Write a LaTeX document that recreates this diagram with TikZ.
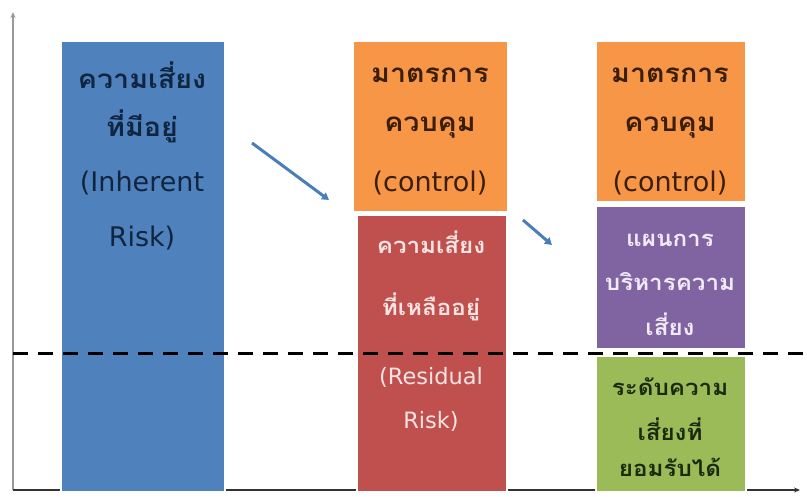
\documentclass[tikz,border=0pt]{standalone}
\usepackage{fontspec}
\setmainfont[Script=Thai,FakeStretch=1.1]{Loma}
\newfontfamily\latfont{DejaVu Sans}
\usetikzlibrary{arrows.meta}
\definecolor{cblue}{HTML}{4F81BD}
\definecolor{corange}{HTML}{F79646}
\definecolor{cred}{HTML}{C0504D}
\definecolor{cpurple}{HTML}{8064A2}
\definecolor{cgreen}{HTML}{9BBB59}
\definecolor{tnavy}{HTML}{10253F}
\definecolor{tbrown}{HTML}{3A1E08}
\definecolor{tpink}{HTML}{F6E4E3}
\definecolor{tlilac}{HTML}{F1EAF8}
\definecolor{tgreen}{HTML}{1C2A0C}
\definecolor{carrow}{HTML}{4A7EBB}
\begin{document}
\begin{tikzpicture}[x=1pt,y=-1pt,
  box/.style={draw=white, line width=1.5pt, inner sep=0pt, anchor=north west},
  big/.style={font=\fontsize{26}{26}\selectfont\bfseries, inner sep=0pt},
  bigl/.style={font=\fontsize{27}{27}\selectfont\latfont, inner sep=0pt},
  small/.style={font=\fontsize{22}{22}\selectfont\bfseries, inner sep=0pt},
  smalll/.style={font=\fontsize{22.5}{22.5}\selectfont\latfont, inner sep=0pt},
  flow/.style={draw=carrow, line width=3pt, -{Triangle[length=7pt,width=8pt]}}]
\useasboundingbox (0,0) rectangle (807,496);
% axes
\coordinate (o) at (13,490);
\coordinate (ytop) at (13,12);
\coordinate (xend) at (800,490);
\draw[gray!80, line width=1.5pt, -{Stealth[length=6pt,width=5pt]}] (o) -- (ytop);
\draw[black!80, line width=1.2pt, -{Stealth[length=6pt,width=5pt]}] (o) -- (xend);
% boxes
\node[box, fill=cblue, minimum width=164pt, minimum height=451pt] (inh) at (60,40) {};
\node[box, fill=corange, minimum width=155pt, minimum height=171pt] (ctl1) at (352,40) {};
\node[box, fill=cred, minimum width=150pt, minimum height=277pt] (res) at (356,214) {};
\node[box, fill=corange, minimum width=150pt, minimum height=161pt] (ctl2) at (595,40) {};
\node[box, fill=cpurple, minimum width=150pt, minimum height=143pt] (plan) at (595,205) {};
\node[box, fill=cgreen, minimum width=150pt, minimum height=136pt] (acc) at (595,355) {};
% dashed line
\coordinate (dl) at (13,353);
\coordinate (dr) at (807,353);
\draw[black, line width=3pt, dash pattern=on 15pt off 10pt] (dl) -- (dr);
% texts
\node[big, text=tnavy] (i1) at (142,75) {ความเสี่ยง};
\node[big, text=tnavy] (i2) at (142,126) {ที่มีอยู่};
\node[bigl, text=tnavy] (i3) at (142,183) {(Inherent};
\node[bigl, text=tnavy] (i4) at (142,238) {Risk)};
\node[big, text=tbrown] (c1) at (430,75) {มาตรการ};
\node[big, text=tbrown] (c2) at (430,128) {ควบคุม};
\node[bigl, text=tbrown] (c3) at (430,183) {(control)};
\node[big, text=tbrown] (d1) at (670,75) {มาตรการ};
\node[big, text=tbrown] (d2) at (670,128) {ควบคุม};
\node[bigl, text=tbrown] (d3) at (670,183) {(control)};
\node[small, text=tpink] (r1) at (431,242) {ความเสี่ยง};
\node[small, text=tpink] (r2) at (431,307) {ที่เหลืออยู่};
\node[smalll, text=tpink] (r3) at (431,377) {(Residual};
\node[smalll, text=tpink] (r4) at (431,421) {Risk)};
\node[small, text=tlilac] (p1) at (670,240) {แผนการ};
\node[small, text=tlilac] (p2) at (670,282) {บริหารความ};
\node[small, text=tlilac] (p3) at (670,324) {เสี่ยง};
\node[small, text=tgreen] (g1) at (670,387) {ระดับความ};
\node[small, text=tgreen] (g2) at (670,429) {เสี่ยงที่};
\node[small, text=tgreen] (g3) at (670,467) {ยอมรับได้};
% flow arrows
\coordinate (a1s) at (252,143);
\coordinate (a1e) at (329,200);
\coordinate (a2s) at (523,220);
\coordinate (a2e) at (552,245);
\draw[flow] (a1s) -- (a1e);
\draw[flow] (a2s) -- (a2e);
\end{tikzpicture}
\end{document}
